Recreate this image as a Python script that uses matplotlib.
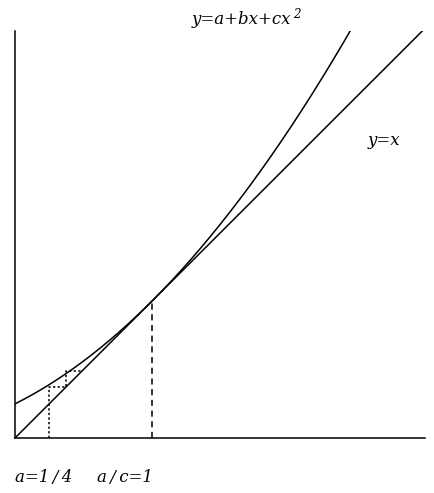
import numpy as np
import matplotlib.pyplot as plt

# coefficients of the parabola y = a + b x + c x^2 (tangent to y = x at x = a/c)
a, b, c = 0.25, 0.5, 0.25
x_tangent = 1.0

# cobweb (dotted) steps
cob_x = [0.25, 0.25, 0.37, 0.37, 0.49]
cob_y = [0.0, 0.37, 0.37, 0.49, 0.49]

xmax, ymax = 3.0, 2.98

fig = plt.figure(figsize=(4.34, 4.93), dpi=100)
ax = fig.add_axes([15 / 434, 55 / 493, 410 / 434, 407 / 493])

xs = np.linspace(0, xmax, 400)
ax.plot(xs, a + b * xs + c * xs ** 2, color="black", lw=1.1)
ax.plot([0, xmax], [0, xmax], color="black", lw=1.1)
ax.plot([x_tangent, x_tangent], [0, x_tangent], color="black", lw=1.1,
        linestyle=(0, (4, 3)))
ax.plot(cob_x, cob_y, color="black", lw=1.1, linestyle=(0, (1.5, 1.5)))

ax.set_xlim(0, xmax)
ax.set_ylim(0, ymax)
for side in ["top", "right"]:
    ax.spines[side].set_visible(False)
ax.spines["left"].set_linewidth(1.1)
ax.spines["bottom"].set_linewidth(1.1)
ax.set_xticks([])
ax.set_yticks([])

font = dict(family="DejaVu Serif", style="italic", size=12, color="black")
t = ax.text(1.29, 3.03, "y=a+bx+cx", clip_on=False, va="baseline", **font)
ax.annotate("2", xy=(1, 0), xycoords=t, xytext=(1.5, 5), textcoords="offset points",
            va="bottom", family="DejaVu Serif", style="italic", size=8.5)
ax.text(2.58, 2.18, "y=x", va="center", **font)
ax.text(0.0, -0.29, "a=1\u2009/\u20094", va="center", **font)
ax.text(0.6, -0.29, "a\u2009/\u2009c=1", va="center", **font)

fig.savefig("out.png", dpi=100)
